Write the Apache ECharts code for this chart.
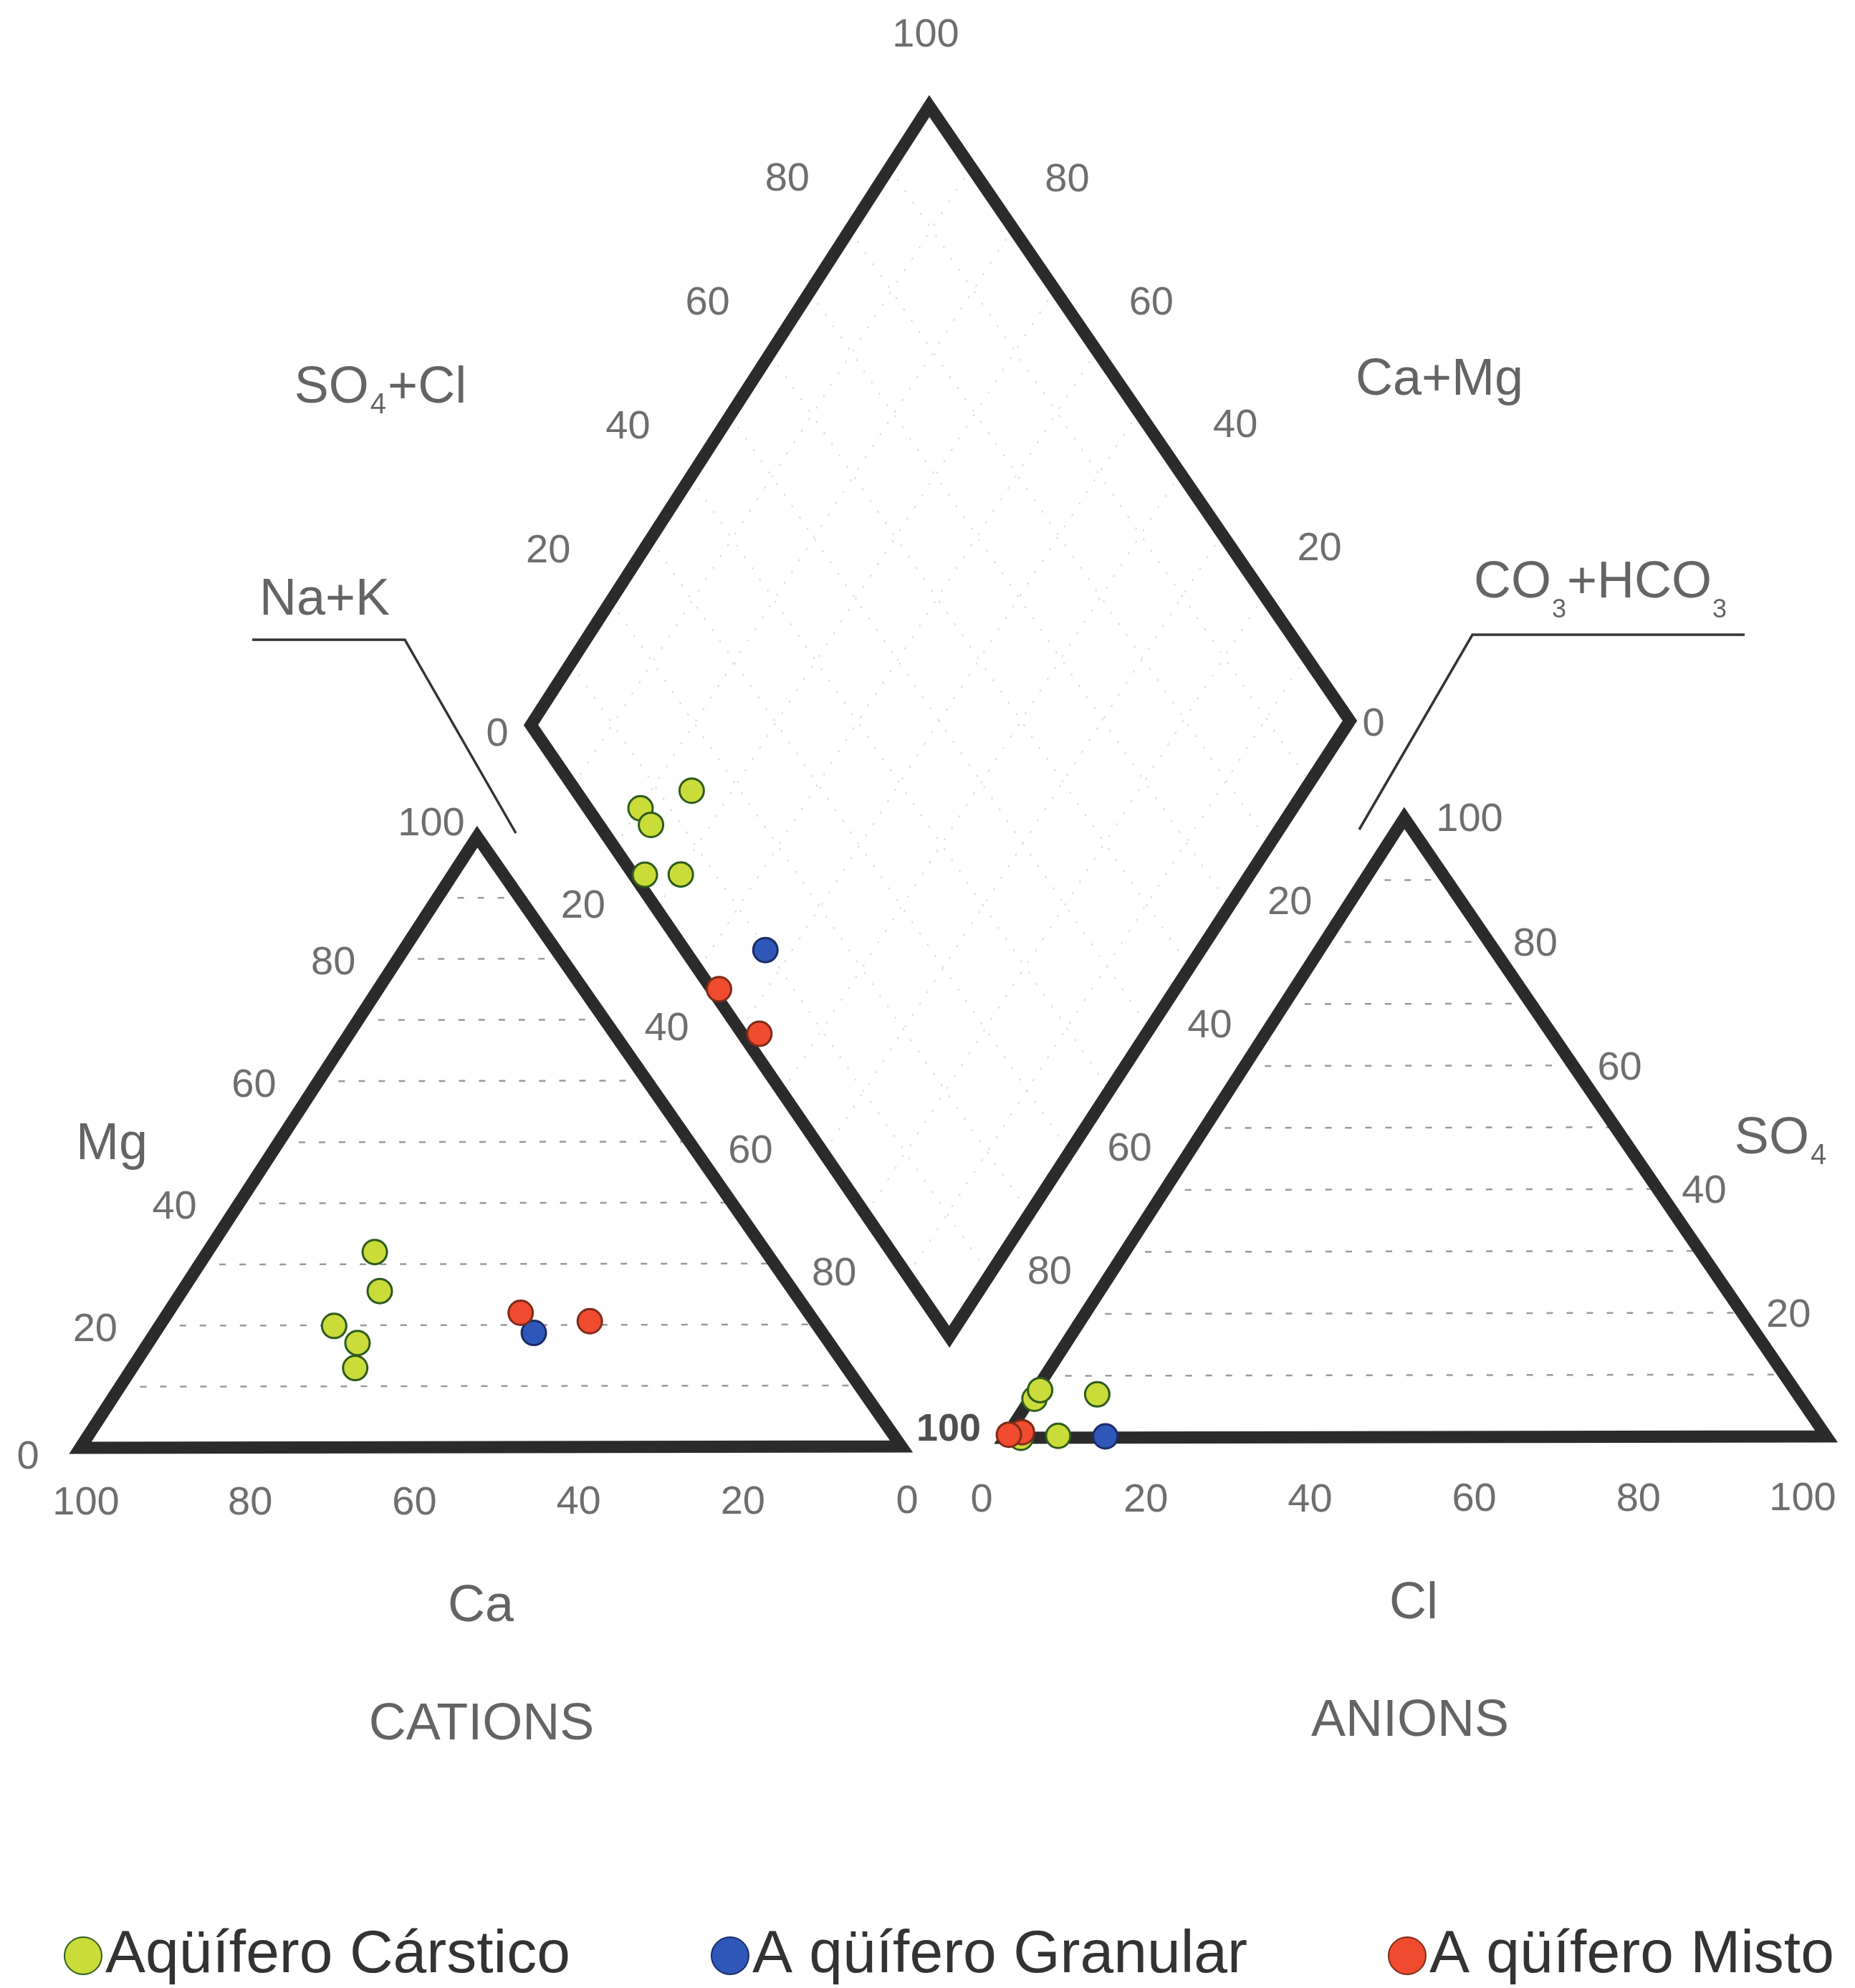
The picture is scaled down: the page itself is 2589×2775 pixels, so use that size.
<!DOCTYPE html>
<html>
<head>
<meta charset="utf-8">
<title>Diagrama de Piper</title>
<script src="https://cdn.jsdelivr.net/npm/echarts@6/dist/echarts.min.js"></script>
<style>
  html, body { margin: 0; padding: 0; background: #ffffff; }
  #chart { width: 2589px; height: 2775px; }
</style>
</head>
<body>
<div id="chart"></div>
<script>
// ---------------------------------------------------------------
// Groups shown in the legend
// ---------------------------------------------------------------
const groupNames = ['Aqüífero Cárstico', 'A qüífero Granular', 'A qüífero Misto'];

// Cations (% meq/l): Ca, Mg, Na+K
const carsticoCa  = [47.6, 50.3, 58.8, 57.4, 59.8];
const carsticoMg  = [32.0, 25.6, 19.9, 17.1, 13.0];
const carsticoNaK = [20.4, 24.1, 21.3, 25.5, 27.2];
const granularCa  = [35.1];
const granularMg  = [18.7];
const granularNaK = [46.2];
const mistoCa     = [35.0, 27.3];
const mistoMg     = [22.0, 20.6];
const mistoNaK    = [43.0, 52.1];

// Anions (% meq/l): Cl, SO4, CO3+HCO3
const carsticoCl   = [7.8, 0.5, 0.5, 6.3, 1.9];
const carsticoSO4  = [7.0, 6.3, 7.7, 0.3, 0.0];
const carsticoHCO3 = [85.2, 93.2, 91.8, 93.4, 98.1];
const granularCl   = [12.1];
const granularSO4  = [0.2];
const granularHCO3 = [87.7];
const mistoCl      = [1.6, 0.2];
const mistoSO4     = [0.9, 0.5];
const mistoHCO3    = [97.5, 99.3];

// Central field (diamond): Na+K and SO4+Cl
const carsticoDiamondNaK   = [25.0, 20.1, 22.7, 25.9, 30.3];
const carsticoDiamondSO4Cl = [14.1, 6.4, 6.3, 1.4, 5.8];
const granularDiamondNaK   = [46.7];
const granularDiamondSO4Cl = [9.8];
const mistoDiamondNaK      = [44.1, 52.6];
const mistoDiamondSO4Cl    = [0.9, 2.1];

// Axis ticks
const axisTicks = [0, 20, 40, 60, 80, 100];
const innerTicks = [20, 40, 60, 80];
const gridSteps = [10, 20, 30, 40, 50, 60, 70, 80, 90];

// ---------------------------------------------------------------
// Layout (page units, one unit per canvas pixel)
// ---------------------------------------------------------------
const FONT = "'Liberation Sans', Arial, Helvetica, sans-serif";
const PAGE_W = 2589, PAGE_H = 2775;
const CAT = { L: [112, 2021], A: [666, 1168], R: [1258, 2019] };
const ANI = { L: [1403, 2007], A: [1960, 1142], R: [2549, 2005] };
const DIA = { L: [741, 1012], T: [1297, 148], R: [1884, 1006], B: [1325, 1866] };

const TICK_COLOR = '#4a4a4a';
const TITLE_COLOR = '#3d3d3d';

const styles = {
  'Aqüífero Cárstico':  { color: '#c9dc3a', borderColor: '#2f5a1c' },
  'A qüífero Granular': { color: '#2f57b9', borderColor: '#1b2c66' },
  'A qüífero Misto':    { color: '#f04b2f', borderColor: '#7c2b18' }
};

// ---------------------------------------------------------------
// Projections
// ---------------------------------------------------------------
function add(p, q) { return [p[0] + q[0], p[1] + q[1]]; }
function edgePoint(p0, p1, pct) {
  return [p0[0] + (p1[0] - p0[0]) * pct / 100, p0[1] + (p1[1] - p0[1]) * pct / 100];
}
function mix(pts, w) {
  let x = 0, y = 0;
  for (let i = 0; i < pts.length; i++) { x += pts[i][0] * w[i] / 100; y += pts[i][1] * w[i] / 100; }
  return [x, y];
}
const cationXY = (ca, mg, nak) => mix([CAT.L, CAT.A, CAT.R], [ca, mg, nak]);
const anionXY = (cl, so4, hco3) => mix([ANI.L, ANI.A, ANI.R], [hco3, so4, cl]);
const diamondXY = (nak, so4cl) => [
  DIA.L[0] + (DIA.T[0] - DIA.L[0]) * so4cl / 100 + (DIA.B[0] - DIA.L[0]) * nak / 100,
  DIA.L[1] + (DIA.T[1] - DIA.L[1]) * so4cl / 100 + (DIA.B[1] - DIA.L[1]) * nak / 100
];

const groups = [
  { name: groupNames[0], ca: carsticoCa, mg: carsticoMg, nak: carsticoNaK,
    cl: carsticoCl, so4: carsticoSO4, hco3: carsticoHCO3,
    dNaK: carsticoDiamondNaK, dSO4Cl: carsticoDiamondSO4Cl },
  { name: groupNames[1], ca: granularCa, mg: granularMg, nak: granularNaK,
    cl: granularCl, so4: granularSO4, hco3: granularHCO3,
    dNaK: granularDiamondNaK, dSO4Cl: granularDiamondSO4Cl },
  { name: groupNames[2], ca: mistoCa, mg: mistoMg, nak: mistoNaK,
    cl: mistoCl, so4: mistoSO4, hco3: mistoHCO3,
    dNaK: mistoDiamondNaK, dSO4Cl: mistoDiamondSO4Cl }
];

function groupPoints(g) {
  const pts = [];
  g.ca.forEach((_, i) => pts.push(cationXY(g.ca[i], g.mg[i], g.nak[i])));
  g.cl.forEach((_, i) => pts.push(anionXY(g.cl[i], g.so4[i], g.hco3[i])));
  g.dNaK.forEach((_, i) => pts.push(diamondXY(g.dNaK[i], g.dSO4Cl[i])));
  return pts;
}

// ---------------------------------------------------------------
// Frames, grid lines and leader lines
// ---------------------------------------------------------------
function frameSeries(verts) {
  return {
    type: 'line', data: verts.concat([verts[0], verts[1]]), symbol: 'none',
    silent: true, z: 3,
    lineStyle: { color: '#2b2b2b', width: 17, join: 'miter', miterLimit: 10, cap: 'butt' }
  };
}

function segmentSeries(segs, style, z) {
  return {
    type: 'custom', coordinateSystem: 'cartesian2d', silent: true, z: z,
    data: segs.map(s => [s[0][0], s[0][1], s[1][0], s[1][1]]),
    encode: { x: [0, 2], y: [1, 3] },
    renderItem: function (params, api) {
      const p1 = api.coord([api.value(0), api.value(1)]);
      const p2 = api.coord([api.value(2), api.value(3)]);
      return {
        type: 'line',
        shape: { x1: p1[0], y1: p1[1], x2: p2[0], y2: p2[1] },
        style: Object.assign({ fill: null }, style)
      };
    }
  };
}

const triangleGrid = [];
gridSteps.forEach(v => {
  triangleGrid.push([cationXY(100 - v, v, 0), cationXY(0, v, 100 - v)]);
  triangleGrid.push([anionXY(0, v, 100 - v), anionXY(100 - v, v, 0)]);
});
const diamondGrid = [];
gridSteps.forEach(v => {
  diamondGrid.push([diamondXY(0, v), diamondXY(100, v)]);
  diamondGrid.push([diamondXY(v, 0), diamondXY(v, 100)]);
});

function leaderSeries(pts) {
  return {
    type: 'line', data: pts, symbol: 'none', silent: true, z: 3,
    lineStyle: { color: '#333333', width: 3.5, join: 'miter' }
  };
}

// ---------------------------------------------------------------
// Text: tick numbers and titles
// ---------------------------------------------------------------
const labelItems = [];
function addLabel(text, pos, label) {
  labelItems.push({ name: text, value: pos, label: label || {} });
}
function edgeLabels(p0, p1, values, toPct, offset, label) {
  values.forEach(v => addLabel(String(v), add(edgePoint(p0, p1, toPct(v)), offset), label));
}

// Cations
edgeLabels(CAT.L, CAT.R, axisTicks, v => 100 - v, [8, 78]);
edgeLabels(CAT.L, CAT.A, innerTicks, v => v, [-90, 6]);
addLabel('0', add(CAT.L, [-73, 14]));
addLabel('100', add(CAT.A, [-64, -17]));
// Diamond
edgeLabels(DIA.L, DIA.T, innerTicks, v => v, [-87, -70]);
addLabel('0', add(DIA.L, [-47, 14]));
addLabel('100', add(DIA.T, [-5, -98]));
edgeLabels(DIA.R, DIA.T, innerTicks, v => v, [75, -68]);
addLabel('0', add(DIA.R, [33, 6]));
edgeLabels(DIA.L, DIA.B, innerTicks, v => v, [-44, 83]);
edgeLabels(DIA.R, DIA.B, innerTicks, v => v, [28, 83]);
addLabel('100', add(DIA.B, [-1, 130]), { fontWeight: 'bold', color: '#222', fontSize: 54 });
// Anions
edgeLabels(ANI.R, ANI.A, innerTicks, v => v, [65, 4]);
addLabel('100', add(ANI.A, [91, 3]));
addLabel('0', add(ANI.R, [43, 5]));
edgeLabels(ANI.L, ANI.R, axisTicks, v => v, [-33, 88]);

// Titles
const titleStyle = { fontSize: 72, color: TITLE_COLOR };
const subRich = {
  m: { fontSize: 72, color: TITLE_COLOR, fontFamily: FONT, lineHeight: 84, verticalAlign: 'top' },
  s: { fontSize: 40, color: TITLE_COLOR, fontFamily: FONT, lineHeight: 44, verticalAlign: 'top', padding: [40, 2, 0, 2] },
  d: { fontSize: 36, color: TITLE_COLOR, fontFamily: FONT, lineHeight: 40, verticalAlign: 'top', padding: [56, 1, 0, 1] }
};
addLabel('SO4+Cl', [531, 548], { formatter: '{m|SO}{s|4}{m|+Cl}', rich: subRich });
addLabel('Ca+Mg', [2009, 531], titleStyle);
addLabel('Na+K', [453, 838], titleStyle);
addLabel('CO3+HCO3', [2234, 820], { formatter: '{m|CO}{d|3}{m|+HCO}{d|3}', rich: subRich });
addLabel('Mg', [156, 1598], titleStyle);
addLabel('SO4', [2486, 1596], { formatter: '{m|SO}{s|4}', rich: subRich });
addLabel('Ca', [671, 2243], titleStyle);
addLabel('Cl', [1973, 2239], titleStyle);
addLabel('CATIONS', [672, 2408], titleStyle);
addLabel('ANIONS', [1968, 2403], titleStyle);

// ---------------------------------------------------------------
// Chart
// ---------------------------------------------------------------
const chart = echarts.init(document.getElementById('chart'), null, { renderer: 'canvas' });

const series = [
  segmentSeries(diamondGrid, { stroke: '#dcdcdc', lineWidth: 2, lineDash: [3, 16] }, 1),
  segmentSeries(triangleGrid, { stroke: '#9a9a9a', lineWidth: 2.5, lineDash: [9, 19] }, 2),
  frameSeries([CAT.L, CAT.A, CAT.R]),
  frameSeries([ANI.L, ANI.A, ANI.R]),
  frameSeries([DIA.L, DIA.T, DIA.R, DIA.B]),
  leaderSeries([[352, 893], [565, 893], [720, 1163]]),
  leaderSeries([[2435, 886], [2055, 886], [1897, 1158]])
];

groups.forEach(g => {
  series.push({
    type: 'scatter', name: g.name, data: groupPoints(g), z: 5,
    symbol: 'circle', symbolSize: 34,
    itemStyle: { color: styles[g.name].color, borderColor: styles[g.name].borderColor, borderWidth: 3, opacity: 1 }
  });
});

series.push({
  type: 'scatter', name: 'texto', data: labelItems, z: 6, silent: true,
  symbol: 'circle', symbolSize: 1, itemStyle: { color: 'rgba(0,0,0,0)' },
  label: {
    show: true, position: 'inside', formatter: '{b}',
    fontFamily: FONT, fontSize: 56, color: TICK_COLOR, align: 'center', verticalAlign: 'middle'
  }
});

chart.setOption({
  animation: false,
  backgroundColor: '#ffffff',
  grid: { left: 0, right: 0, top: 0, bottom: 0, containLabel: false },
  xAxis: { type: 'value', min: 0, max: PAGE_W, show: false },
  yAxis: { type: 'value', min: 0, max: PAGE_H, inverse: true, show: false },
  legend: {
    data: groupNames, left: 84, top: 2683, itemGap: 196, itemWidth: 52, itemHeight: 52,
    icon: 'circle', selectedMode: false,
    textStyle: { fontFamily: FONT, fontSize: 84, color: '#333333' }
  },
  series: series
});
</script>
</body>
</html>
